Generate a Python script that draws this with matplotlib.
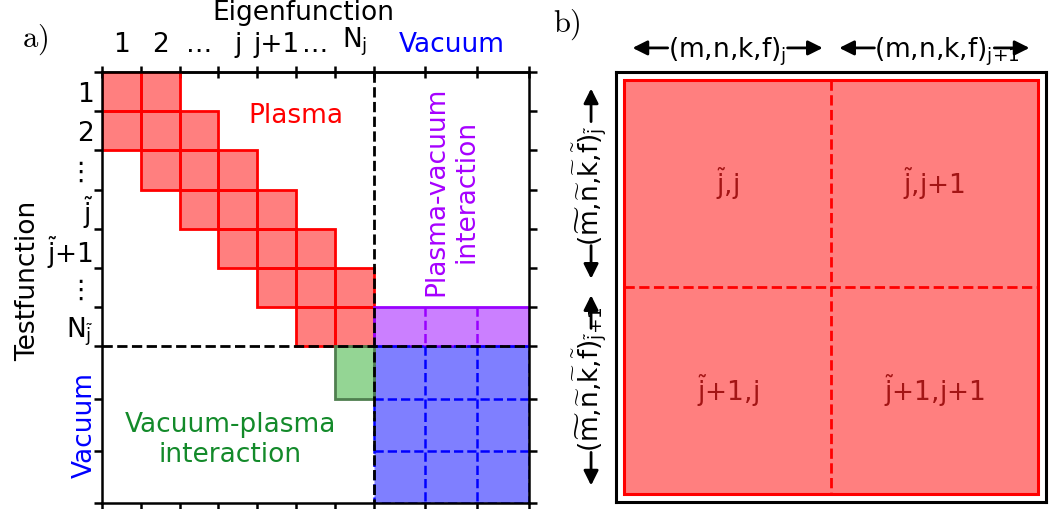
import numpy as np
import matplotlib.pyplot as plt
from matplotlib.patches import Rectangle

plt.rcParams['font.family'] = 'DejaVu Sans'
plt.rcParams['mathtext.fontset'] = 'dejavusans'

TJ = r'$\widetilde{\mathrm{j}}$'

# panel a: block structure of the matrix
n_plasma = 7
n_vac = 3
vac_width = 4 / 3
col_labels = ['1', '2', '…', 'j', 'j+1', '…', r'N$_\mathrm{j}$', 'Vacuum']
row_labels = ['1', '2', '⋮', TJ, TJ + '+1', '⋮', r'N$_{\widetilde{\mathrm{j}}}$']
band_cols = [[0, 1], [0, 1, 2], [1, 2, 3], [2, 3, 4], [3, 4, 5], [4, 5, 6], [5, 6]]
green_cell = (6, 7)  # col, row of the vacuum-plasma block

# panel b: 2x2 block
eig_idx = ['j', 'j+1']
eig_sub = [r'\mathrm{j}', r'\mathrm{j{+}1}']
test_lab = [TJ, TJ + '+1']
test_sub = [r'\widetilde{\mathrm{j}}', r'\widetilde{\mathrm{j}}{+}1']

FS = 19
fig = plt.figure(figsize=(10.49, 5.09), dpi=100)

# ---------------- panel a ----------------
ax = fig.add_axes([102 / 1049, 6 / 509, 427 / 1049, 431 / 509])
edges = np.concatenate([np.arange(n_plasma + 1), n_plasma + vac_width * np.arange(1, n_vac + 1)])
total = edges[-1]
ax.set_xlim(0, total)
ax.set_ylim(total, 0)

for r, cols in enumerate(band_cols):
    for c in cols:
        ax.add_patch(Rectangle((c, r), 1, 1, facecolor=(1, 0, 0, 0.5), edgecolor='red', lw=2))

vac_edges = edges[n_plasma:]
# plasma-vacuum interaction (purple)
ax.add_patch(Rectangle((n_plasma, n_plasma - 1), total - n_plasma, 1,
                       facecolor=(0.6, 0, 1, 0.5), edgecolor='#9900ff', lw=2))
for x in vac_edges[1:-1]:
    ax.plot([x, x], [n_plasma - 1, n_plasma], '--', color='#9900ff', lw=1.8)

# vacuum block (blue)
ax.add_patch(Rectangle((n_plasma, n_plasma), total - n_plasma, total - n_plasma,
                       facecolor=(0, 0, 1, 0.5), edgecolor='blue', ls='--', lw=1.8))
for v in vac_edges[1:-1]:
    ax.plot([v, v], [n_plasma, total], 'b--', lw=1.8)
    ax.plot([n_plasma, total], [v, v], 'b--', lw=1.8)

# vacuum-plasma interaction (green)
ax.add_patch(Rectangle(green_cell, 1, vac_width, facecolor=(0.17, 0.68, 0.17, 0.5),
                       edgecolor='#4f7f4f', lw=2))

ax.plot([n_plasma, n_plasma], [0, total], 'k--', lw=2)
ax.plot([0, total], [n_plasma, n_plasma], 'k--', lw=2)

for s in ax.spines.values():
    s.set_linewidth(1.8)

ax.set_xticks(edges)
ax.set_xticklabels([])
ax.tick_params(axis='x', which='major', bottom=True, top=False, direction='out',
               length=6, width=1.8, labelbottom=False)
ax.set_yticks(edges)
ax.set_yticklabels([])
ax.tick_params(axis='y', which='major', left=True, right=True, direction='out',
               length=6, width=1.8, labelleft=False)
ax.set_yticks(np.arange(n_plasma) + 0.5, minor=True)
ax.set_yticklabels(row_labels, minor=True)
ax.tick_params(axis='y', which='minor', length=0, pad=6, labelsize=FS)
ax.tick_params(axis='x', which='minor', length=0, bottom=False, labelbottom=False)

secax = ax.secondary_xaxis('top')
secax.set_xticks(edges)
secax.set_xticklabels([])
secax.tick_params(which='major', direction='inout', length=9, width=1.8)
secax.set_xticks(list(np.arange(n_plasma) + 0.5) + [n_plasma + (total - n_plasma) / 2], minor=True)
secax.set_xticklabels(col_labels, minor=True)
secax.tick_params(which='minor', length=0, pad=10, labelsize=FS)
secax.get_xticklabels(minor=True)[-1].set_color('blue')
secax.spines['top'].set_linewidth(1.8)

ax.text(5.2, 1.12, 'Eigenfunction', transform=ax.get_xaxis_transform(),
        ha='center', va='baseline', fontsize=FS)
ax.text(-0.172, 0.515, 'Testfunction', transform=ax.transAxes, rotation=90,
        ha='center', va='center', fontsize=FS)
ax.text(-0.04, n_plasma + 2, 'Vacuum', transform=ax.get_yaxis_transform(), rotation=90,
        ha='center', va='center', fontsize=FS, color='blue')
ax.text(5.0, 1.13, 'Plasma', ha='center', va='center', fontsize=FS, color='red')
ax.text(9.0, 3.05, 'Plasma-vacuum\ninteraction', rotation=90, ha='center', va='center',
        multialignment='center', fontsize=FS, color='#a600ff')
ax.text(3.3, 9.4, 'Vacuum-plasma\ninteraction', ha='center', va='center',
        multialignment='center', fontsize=FS, color='#138a2a')

# ---------------- panel b ----------------
axb = fig.add_axes([616 / 1049, 7 / 509, 430 / 1049, 430 / 509])
m = 0.04
axb.set_xlim(-m, 2 + m)
axb.set_ylim(2 + m, -m)
axb.set_xticks([])
axb.set_yticks([])
for s in axb.spines.values():
    s.set_linewidth(2.2)

axb.add_patch(Rectangle((0, 0), 2, 2, facecolor=(1, 0, 0, 0.5), edgecolor='red', lw=2.2))
axb.plot([1, 1], [0, 2], 'r--', lw=2)
axb.plot([0, 2], [1, 1], 'r--', lw=2)

for r, tl in enumerate(test_lab):
    for c, ei in enumerate(eig_idx):
        axb.text(c + 0.5, r + 0.5, tl + ',' + ei, ha='center', va='center',
                 fontsize=FS, color='#a31515')

arrow_kw = dict(arrowstyle='-|>', color='k', lw=2, mutation_scale=22, shrinkA=0, shrinkB=0)
tx = axb.get_xaxis_transform()
for c, es in enumerate(eig_sub):
    x0 = c + 0.5
    axb.text(x0 - 0.29, 1.033, '(m,n,k,f)$_{' + es + '}$', transform=tx,
             ha='left', va='baseline', fontsize=FS)
    axb.annotate('', xy=(x0 - 0.46, 1.056), xytext=(x0 - 0.29, 1.056),
                 xycoords=tx, textcoords=tx, arrowprops=arrow_kw)
    axb.annotate('', xy=(x0 + 0.46, 1.056), xytext=(x0 + 0.29, 1.056),
                 xycoords=tx, textcoords=tx, arrowprops=arrow_kw)

ty = axb.get_yaxis_transform()
tm = [r'$\widetilde{\mathrm{' + ch + '}}$' for ch in 'mnkf']
for r, ts in enumerate(test_sub):
    y0 = r + 0.5
    lab = '(' + ','.join(tm) + ')$_{' + ts + '}$'
    axb.text(-0.040, y0 + 0.30, lab, transform=ty, rotation=90, rotation_mode='anchor',
             ha='left', va='baseline', fontsize=FS)
    axb.annotate('', xy=(-0.058, y0 - 0.46), xytext=(-0.058, y0 - 0.30),
                 xycoords=ty, textcoords=ty, arrowprops=arrow_kw)
    axb.annotate('', xy=(-0.058, y0 + 0.46), xytext=(-0.058, y0 + 0.30),
                 xycoords=ty, textcoords=ty, arrowprops=arrow_kw)

fig.text(35 / 1049, 1 - 40 / 509, r'$\mathrm{a)}$', math_fontfamily='cm',
         ha='center', va='center', fontsize=22)
fig.text(567 / 1049, 1 - 25 / 509, r'$\mathrm{b)}$', math_fontfamily='cm',
         ha='center', va='center', fontsize=22)

fig.savefig('out.png', dpi=100)
